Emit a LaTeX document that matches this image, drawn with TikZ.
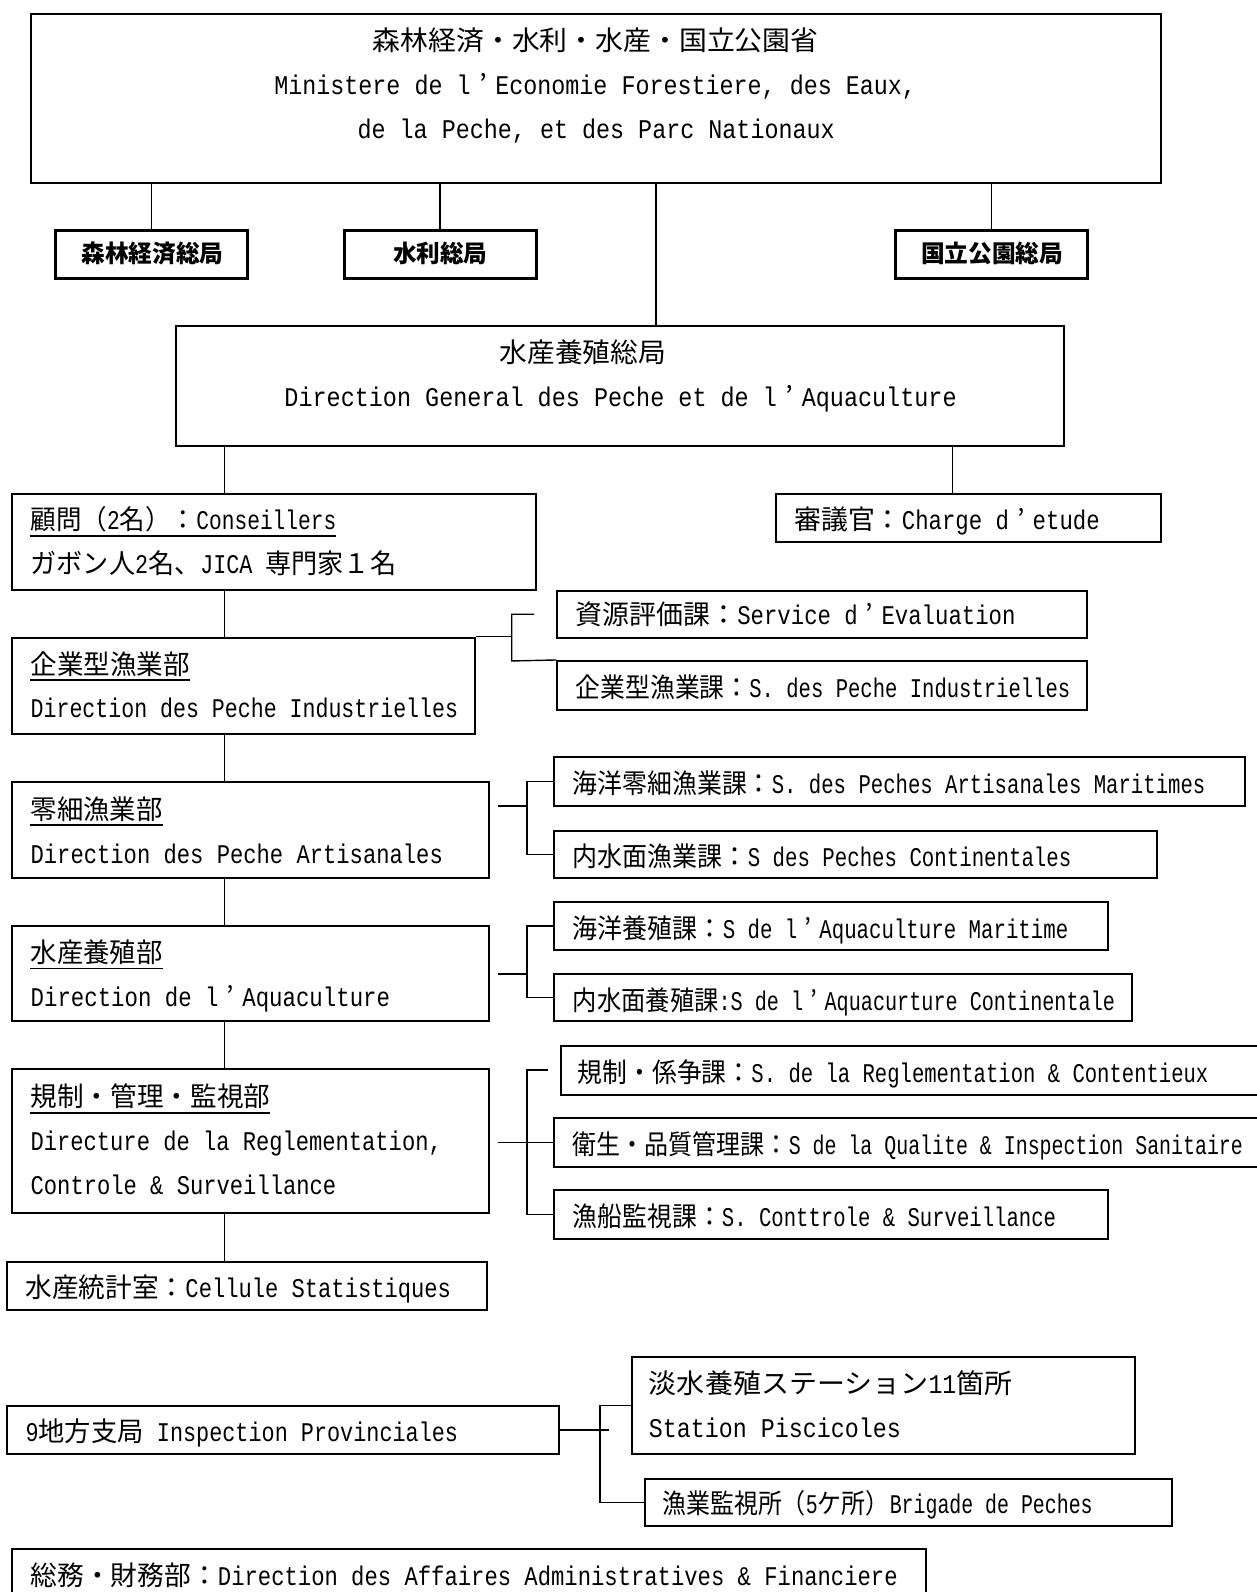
\documentclass[tikz,border=0pt]{standalone}
\usepackage{fontspec}
\usepackage{graphicx}
\setmainfont{Liberation Mono}[FakeStretch=0.83]
\newfontfamily\jp{Noto Sans CJK JP}
\newcommand\J[1]{{\jp #1}}
\newcommand\ap{\J{\hspace{0.3em}’\hspace{0.3em}}}
\usetikzlibrary{fit}
\newsavebox\fitbox
\newcommand\fitto[2]{\sbox\fitbox{#2}\pgfmathsetmacro\fitr{(#1)/\the\wd\fitbox}\scalebox{\fitr}[1]{\usebox\fitbox}}
\newcommand\T[6][]{\node[txt,#1] (#2) at (#3,#5+10) {\fitto{(#4-#3)*1.0153}{#6}};}
\newcommand\U[1]{\draw[uline] ([yshift=-6pt]#1.base west) -- ([yshift=-6pt]#1.base east);}
\newcommand\bfnt{\fontsize{24}{28}\selectfont\bfseries}
\tikzset{
  box/.style={draw, line width=2pt, inner sep=0pt},
  bbox/.style={draw, line width=3pt, inner sep=0pt},
  conn/.style={line width=1.4pt},
  uline/.style={line width=1.8pt},
  txt/.style={anchor=base west, inner sep=0pt, font=\fontsize{27}{32}\selectfont}
}
\begin{document}
\begin{tikzpicture}[x=1.0153pt, y=-1.0153pt]
\useasboundingbox (0,0) rectangle (1238,1568);
\clip (0,0) rectangle (1238,1568);
% boxes
\node[box, fit={(31,14) (1143,180)}] (top) {};
\node[bbox, fit={(55,227) (244,274)}] (b1) {};
\node[bbox, fit={(339,227) (528,274)}] (b2) {};
\node[bbox, fit={(882,227) (1071,274)}] (b3) {};
\node[box, fit={(173,321) (1048,439)}] (dg) {};
\node[box, fit={(12,487) (528,581)}] (adv) {};
\node[box, fit={(764,487) (1143,534)}] (chg) {};
\node[box, fit={(12,628) (468,723)}] (ind) {};
\node[box, fit={(549,582) (1071,628)}] (s1) {};
\node[box, fit={(549,651) (1071,699)}] (s2) {};
\node[box, fit={(12,770) (482,865)}] (art) {};
\node[box, fit={(546,746) (1226,794)}] (s3) {};
\node[box, fit={(546,818) (1140,865)}] (s4) {};
\node[box, fit={(12,912) (482,1006)}] (aq) {};
\node[box, fit={(546,888) (1091,936)}] (s5) {};
\node[box, fit={(546,959) (1115,1006)}] (s6) {};
\node[box, fit={(12,1053) (482,1195)}] (reg) {};
\node[box, fit={(553,1030) (1262,1078)}] (s7) {};
\node[box, fit={(546,1101) (1262,1149)}] (s8) {};
\node[box, fit={(546,1172) (1091,1220)}] (s9) {};
\node[box, fit={(7,1243) (480,1290)}] (stat) {};
\node[box, fit={(7,1385) (551,1432)}] (prov) {};
\node[box, fit={(622,1337) (1118,1432)}] (st) {};
\node[box, fit={(635,1457) (1154,1503)}] (br) {};
\node[box, fit={(12,1526) (912,1600)}] (adm) {};
% connectors
\coordinate (cx) at (221,0);
\coordinate (cm) at (646,0);
\coordinate (cc) at (938,0);
\draw[conn] (top.south -| b1.north) -- (b1.north);
\draw[conn] (top.south -| b2.north) -- (b2.north);
\draw[conn] (top.south -| b3.north) -- (b3.north);
\draw[conn] (top.south -| cm) -- (dg.north -| cm);
\draw[conn] (dg.south -| cx) -- (adv.north -| cx);
\draw[conn] (dg.south -| cc) -- (chg.north -| cc);
\draw[conn] (adv.south -| cx) -- (ind.north -| cx);
\draw[conn] (ind.south -| cx) -- (art.north -| cx);
\draw[conn] (art.south -| cx) -- (aq.north -| cx);
\draw[conn] (aq.south -| cx) -- (reg.north -| cx);
\draw[conn] (reg.south -| cx) -- (stat.north -| cx);
% bracket industrial
\coordinate (k1) at (504,605);
\coordinate (k2) at (504,651);
\coordinate (k1e) at (526,605);
\draw[conn] (ind.north east) -- (ind.north east -| k1);
\draw[conn] (k1e) -- (k1) -- (k2) -- (s2.north west);
% bracket artisanal
\coordinate (va) at (519,0);
\coordinate (a1) at (490,794);
\draw[conn] (s3.west) -- (s3.west -| va) -- (s4.west -| va) -- (s4.west);
\draw[conn] (a1) -- (a1 -| va);
% bracket aquaculture
\coordinate (q1) at (490,959.5);
\draw[conn] (s5.west) -- (s5.west -| va) -- (s6.west -| va) -- (s6.west);
\draw[conn] (q1) -- (q1 -| va);
% bracket regulation
\coordinate (r1e) at (540,1054);
\coordinate (r2) at (490,1125);
\draw[conn] (r1e) -- (r1e -| va) -- (s9.west -| va) -- (s9.west);
\draw[conn] (r2) -- (s8.west);
% bracket provinces
\coordinate (vp) at (591,0);
\coordinate (pe) at (600,0);
\draw[conn] (st.west) -- (st.west -| vp) -- (br.west -| vp) -- (br.west);
\draw[conn] (prov.east) -- (prov.east -| pe);
% texts
\T{t1}{367}{806}{40}{\J{森林経済・水利・水産・国立公園省}}
\T{t2}{270}{902}{83}{Ministere de l\ap Economie Forestiere, des Eaux,}
\T{t3}{352}{822}{126}{de la Peche, et des Parc Nationaux}
\T[font=\bfnt]{tb1}{80}{220}{249}{\J{森林経済総局}}
\T[font=\bfnt]{tb2}{387}{480}{249}{\J{水利総局}}
\T[font=\bfnt]{tb3}{907}{1047}{249}{\J{国立公園総局}}
\T{t5}{492}{656}{347}{\J{水産養殖総局}}
\T{t6}{280}{942}{390}{Direction General des Peche et de l\ap Aquaculture}
\T{t7}{30}{331}{512}{\J{顧問（}2\J{名）：}Conseillers}
\T{t8}{30}{390}{555}{\J{ガボン人}2\J{名、}JICA \J{専門家１名}}
\T{t9}{782}{1083}{512}{\J{審議官：}Charge d\ap etude}
\T{t10}{30}{187}{654}{\J{企業型漁業部}}
\T{t11}{30}{451}{697}{Direction des Peche Industrielles}
\T{t12}{567}{1000}{605}{\J{資源評価課：}Service d\ap Evaluation}
\T{t13}{567}{1054}{677}{\J{企業型漁業課：}S. des Peche Industrielles}
\T{t14}{30}{160}{797}{\J{零細漁業部}}
\T{t15}{30}{436}{840}{Direction des Peche Artisanales}
\T{t16}{564}{1187}{772}{\J{海洋零細漁業課：}S. des Peches Artisanales Maritimes}
\T{t17}{564}{1055}{843}{\J{内水面漁業課：}S des Peches Continentales}
\T{t18}{30}{160}{938}{\J{水産養殖部}}
\T{t19}{30}{384}{981}{Direction de l\ap Aquaculture}
\T{t20}{564}{1052}{914}{\J{海洋養殖課：}S de l\ap Aquaculture Maritime}
\T{t21}{564}{1098}{985}{\J{内水面養殖課}:S de l\ap Aquacurture Continentale}
\T{t22}{30}{266}{1080}{\J{規制・管理・監視部}}
\T{t23}{30}{435}{1123}{Directure de la Reglementation,}
\T{t24}{30}{331}{1166}{Controle \& Surveillance}
\T{t25}{569}{1190}{1056}{\J{規制・係争課：}S. de la Reglementation \& Contentieux}
\T{t26}{564}{1224}{1127}{\J{衛生・品質管理課：}S de la Qualite \& Inspection Sanitaire}
\T{t27}{564}{1040}{1198}{\J{漁船監視課：}S. Conttrole \& Surveillance}
\T{t28}{25}{444}{1268}{\J{水産統計室：}Cellule Statistiques}
\T{t29}{25}{451}{1410}{9\J{地方支局} Inspection Provinciales}
\T{t30}{639}{997}{1362}{\J{淡水養殖ステーション}11\J{箇所}}
\T{t31}{639}{887}{1406}{Station Piscicoles}
\T{t32}{652}{1076}{1481}{\J{漁業監視所（}5\J{ケ所）}Brigade de Peches}
\T{t33}{30}{884}{1552}{\J{総務・財務部：}Direction des Affaires Administratives \& Financiere}
\U{t7}
\U{t10}
\U{t14}
\U{t18}
\U{t22}
\end{tikzpicture}
\end{document}
